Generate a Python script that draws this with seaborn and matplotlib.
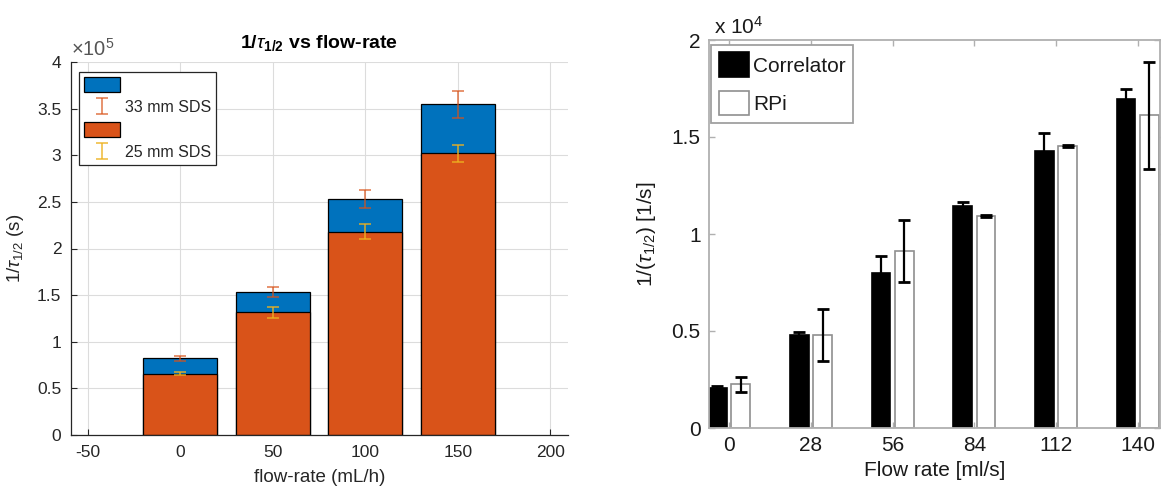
import numpy as np
import pandas as pd
import matplotlib
matplotlib.use("Agg")
import matplotlib.pyplot as plt
import seaborn as sns
from matplotlib.patches import Patch

# ---------------- left panel data (1/tau_1/2, units 1/s) ----------------
flow_left = [0, 50, 100, 150]
sds25 = [65700, 131600, 218000, 302000]          # orange (bottom) segment
sds33_extra = [16500, 21600, 34800, 52600]       # blue (stacked) segment
err33 = [3000, 5700, 9800, 14700]
err25 = [1500, 6000, 8300, 9000]
left_xticks = [-50, 0, 50, 100, 150, 200]
left_yticks = [0, 50000, 100000, 150000, 200000, 250000, 300000, 350000, 400000]
left_yticklabels = ["0", "0.5", "1", "1.5", "2", "2.5", "3", "3.5", "4"]

# ---------------- right panel data (1/tau_1/2, units 1/s) ----------------
flow_right = [0, 28, 56, 84, 112, 140]
correlator = [2080, 4790, 7990, 11460, 14290, 16960]
correlator_err = [80, 170, 890, 200, 910, 500]
rpi = [2250, 4790, 9120, 10930, 14550, 16130]
rpi_err = [400, 1340, 1580, 50, 50, 2760]
right_yticks = [0, 5000, 10000, 15000, 20000]
right_yticklabels = ["0", "0.5", "1", "1.5", "2"]

BLUE = "#0072BD"
ORANGE = "#D95319"
YELLOW = "#EDB120"
AX = "#262626"

sns.set_theme(style="white")
plt.rcParams['font.family'] = ['Liberation Sans', 'DejaVu Sans']
plt.rcParams['mathtext.fontset'] = 'custom'
plt.rcParams['mathtext.rm'] = 'Liberation Sans'
plt.rcParams['mathtext.it'] = 'Liberation Sans:italic'
plt.rcParams['mathtext.bf'] = 'Liberation Sans:bold'

fig = plt.figure(figsize=(11.63, 4.96), dpi=100)

# ======================= LEFT PANEL =======================
axL = fig.add_axes([71/1163, (496-435)/496, (568-71)/1163, (435-62)/496])
dfL = pd.DataFrame({"flow": flow_left, "sds25": sds25, "extra": sds33_extra})
dfL["total"] = dfL["sds25"] + dfL["extra"]

sns.barplot(data=dfL, x="flow", y="total", native_scale=True, width=0.8,
            color=BLUE, saturation=1, edgecolor="black", linewidth=0.9,
            errorbar=None, ax=axL, zorder=2)
sns.barplot(data=dfL, x="flow", y="sds25", native_scale=True, width=0.8,
            color=ORANGE, saturation=1, edgecolor="black", linewidth=0.9,
            errorbar=None, ax=axL, zorder=2)
eb33 = axL.errorbar(dfL["flow"], dfL["total"], yerr=err33, fmt="none",
                    ecolor=ORANGE, alpha=0.8, elinewidth=1.1, capsize=4,
                    capthick=1.1, zorder=3)
eb25 = axL.errorbar(dfL["flow"], dfL["sds25"], yerr=err25, fmt="none",
                    ecolor=YELLOW, alpha=0.9, elinewidth=1.1, capsize=4,
                    capthick=1.1, zorder=3)

axL.set_xlim(-59, 209.5)
axL.set_ylim(0, 400000)
axL.set_xticks(left_xticks)
axL.set_xticklabels([str(v) for v in left_xticks])
axL.set_yticks(left_yticks)
axL.set_yticklabels(left_yticklabels)
axL.set_axisbelow(True)
axL.grid(True, color="#DCDCDC", linewidth=0.8)
for s in ["top", "right"]:
    axL.spines[s].set_visible(False)
for s in ["left", "bottom"]:
    axL.spines[s].set_color(AX)
    axL.spines[s].set_linewidth(0.9)
axL.tick_params(direction="in", length=4, width=0.8, color=AX,
                labelcolor=AX, labelsize=12.5, bottom=True, left=True, pad=7)
axL.set_xlabel("flow-rate (mL/h)", fontsize=13.5, color=AX, labelpad=7)
axL.set_ylabel(r"1/$\tau_{1/2}$ (s)", fontsize=13.5, color=AX, labelpad=8)
axL.set_title(r"1/$\tau_{\mathbf{1/2}}$ vs flow-rate", fontsize=14,
              fontweight="bold", color="black", pad=10)
axL.text(0.0, 1.006, r"$\times10^{5}$", transform=axL.transAxes,
         ha="left", va="bottom", fontsize=14.5, color="#555555")

handlesL = [Patch(facecolor=BLUE, edgecolor="black", linewidth=0.9), eb33,
            Patch(facecolor=ORANGE, edgecolor="black", linewidth=0.9), eb25]
labelsL = ["", "33 mm SDS", "", "25 mm SDS"]
legL = axL.legend(handlesL, labelsL, loc="upper left",
                  bbox_to_anchor=(0.016, 0.973), borderaxespad=0,
                  fontsize=11.5, handlelength=2.3, handleheight=1.1,
                  labelspacing=0.4, handletextpad=0.3, borderpad=0.3,
                  fancybox=False, framealpha=1)
legL.get_frame().set_edgecolor(AX)
legL.get_frame().set_linewidth(0.9)
for t in legL.get_texts():
    t.set_color(AX)

# ======================= RIGHT PANEL =======================
axR = fig.add_axes([709/1163, (496-428)/496, (1160-709)/1163, (428-40)/496])
dfR = pd.DataFrame({
    "flow": flow_right + flow_right,
    "value": correlator + rpi,
    "device": ["Correlator"] * len(flow_right) + ["RPi"] * len(flow_right),
})
sns.barplot(data=dfR, x="flow", y="value", hue="device", native_scale=True,
            width=16/28, gap=0.2, palette={"Correlator": "black", "RPi": "white"},
            saturation=1, linewidth=1.2, errorbar=None, legend=False, ax=axR,
            zorder=2)
edge_cols = ["black", "#8f8f8f"]
for cont, ec in zip(axR.containers, edge_cols):
    for p in cont:
        p.set_edgecolor(ec)

centers_c = [p.get_x() + p.get_width() / 2 for p in axR.containers[0]]
centers_r = [p.get_x() + p.get_width() / 2 for p in axR.containers[1]]
axR.errorbar(centers_c, correlator, yerr=correlator_err, fmt="none",
             ecolor="black", elinewidth=1.6, capsize=4.5, capthick=2, zorder=3)
axR.errorbar(centers_r, rpi, yerr=rpi_err, fmt="none",
             ecolor="black", elinewidth=1.6, capsize=4.5, capthick=2, zorder=3)

axR.set_xlim(-6.9, 147.6)
axR.set_ylim(0, 20000)
axR.set_xticks(flow_right)
axR.set_xticklabels([str(v) for v in flow_right])
axR.set_yticks(right_yticks)
axR.set_yticklabels(right_yticklabels)
for s in ["top", "right", "left", "bottom"]:
    axR.spines[s].set_visible(True)
    axR.spines[s].set_color("#b0b0b0")
    axR.spines[s].set_linewidth(1.3)
axR.tick_params(direction="in", length=4, width=1, color="#b0b0b0",
                labelcolor="#1a1a1a", labelsize=15, top=True, right=True,
                bottom=True, left=True, pad=6)
axR.set_xlabel("Flow rate [ml/s]", fontsize=15, color="#1a1a1a", labelpad=4)
axR.set_ylabel(r"1/($\tau_{1/2}$) [1/s]", fontsize=15, color="#1a1a1a",
               labelpad=10)
axR.text(0.01, 1.005, r"x 10$^{4}$", transform=axR.transAxes,
         ha="left", va="bottom", fontsize=15, color="#1a1a1a")

handlesR = [Patch(facecolor="black", edgecolor="black", linewidth=1.2),
            Patch(facecolor="white", edgecolor="#8f8f8f", linewidth=1.2)]
legR = axR.legend(handlesR, ["Correlator", "RPi"], loc="upper left",
                  bbox_to_anchor=(0.005, 0.987), borderaxespad=0,
                  fontsize=15, handlelength=1.45, handleheight=1.45,
                  labelspacing=0.65, handletextpad=0.2, borderpad=0.35,
                  fancybox=False, framealpha=1)
legR.get_frame().set_edgecolor("#a0a0a0")
legR.get_frame().set_linewidth(1.3)
for t in legR.get_texts():
    t.set_color("#1a1a1a")

fig.savefig("out.png", dpi=100)
